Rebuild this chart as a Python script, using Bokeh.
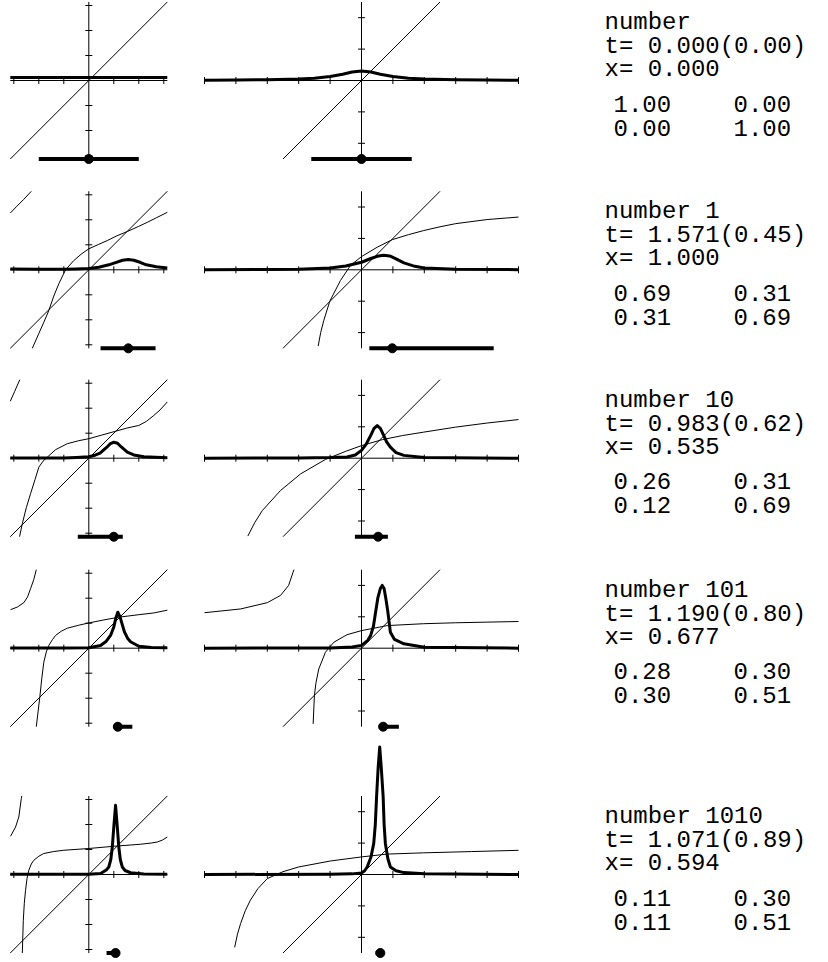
import numpy as np
from bokeh.plotting import figure
from bokeh.layouts import column, row
from bokeh.models import Range1d
from bokeh.core.properties import value
from bokeh.embed import file_html
from bokeh.resources import INLINE

# ---------------- data ----------------
L_LIM = 3.14159          # left panels: [-pi, pi] square
R_XLIM = 5.0             # right panels: x in [-5, 5]
R_YLIM = 2.5             # right panels: axis y in [-2.5, 2.5]
left_ticks = [-3, -2, -1, 1, 2, 3]
right_xticks = [-5, -4, -3, -2, -1, 1, 2, 3, 4, 5]
right_yticks = [-2, -1, 1, 2]

# ---- row 1 ----
r1_L_thick_x = [-3.14, -1.5, 0.0, 1.5, 3.14]
r1_L_thick_y = [0.12, 0.12, 0.12, 0.12, 0.12]
r1_L_bar = [-2.0, 2.0]
r1_L_dot = 0.0
r1_R_thick_x = [-5, -4, -3, -2, -1.5, -1, -0.6, -0.3, 0, 0.3, 0.6, 1, 1.5, 2, 3, 4, 5]
r1_R_thick_y = [0.01, 0.015, 0.025, 0.045, 0.07, 0.13, 0.2, 0.27, 0.3, 0.27, 0.2, 0.13, 0.07, 0.045, 0.025, 0.015, 0.01]
r1_R_bar = [-1.6, 1.6]
r1_R_dot = 0.0
r1_text = ["number", "t= 0.000(0.00)", "x= 0.000"]
r1_matrix = [["1.00", "0.00"], ["0.00", "1.00"]]

# ---- row 2 ----
r2_L_thinA_x = [-3.14, -2.9, -2.6, -2.3]
r2_L_thinA_y = [2.27, 2.52, 2.82, 3.14]
r2_L_thin_x = [-2.26, -2.0, -1.8, -1.6, -1.4, -1.2, -0.93, -0.6, -0.3, 0, 0.4, 0.74, 1.1, 1.54, 2.0, 2.34, 2.7, 3.14]
r2_L_thin_y = [-3.14, -2.55, -2.1, -1.63, -1.05, -0.56, 0.0, 0.37, 0.63, 0.84, 1.02, 1.17, 1.35, 1.53, 1.74, 1.9, 2.08, 2.3]
r2_L_thick_x = [-3.14, -2, -1, -0.5, 0, 0.4, 0.8, 1.1, 1.35, 1.58, 1.8, 2.05, 2.3, 2.7, 3.14]
r2_L_thick_y = [0.03, 0.02, 0.02, 0.03, 0.05, 0.1, 0.2, 0.3, 0.38, 0.41, 0.38, 0.3, 0.2, 0.12, 0.07]
r2_L_bar = [0.47, 2.67]
r2_L_dot = 1.58
r2_R_thin_x = [-1.38, -1.3, -1.2, -1.01, -0.67, -0.35, 0, 0.5, 0.98, 1.5, 1.98, 2.5, 3, 4, 5]
r2_R_thin_y = [-2.43, -2.0, -1.61, -1.0, -0.34, 0.14, 0.42, 0.72, 0.96, 1.12, 1.25, 1.37, 1.47, 1.6, 1.68]
r2_R_thick_x = [-5, -3, -2, -1, -0.5, 0, 0.3, 0.5, 0.7, 0.9, 1.1, 1.35, 1.7, 2, 3, 5]
r2_R_thick_y = [0.005, 0.01, 0.02, 0.06, 0.12, 0.24, 0.36, 0.43, 0.46, 0.44, 0.35, 0.22, 0.11, 0.06, 0.02, 0.005]
r2_R_bar = [0.25, 4.21]
r2_R_dot = 0.98
r2_text = ["number 1", "t= 1.571(0.45)", "x= 1.000"]
r2_matrix = [["0.69", "0.31"], ["0.31", "0.69"]]

# ---- row 3 ----
r3_L_thinA_x = [-3.14, -2.97, -2.76]
r3_L_thinA_y = [2.28, 2.66, 3.14]
r3_L_thin_x = [-2.77, -2.66, -2.5, -2.33, -2.15, -2.0, -1.83, -1.66, -1.33, -0.86, -0.4, 0, 0.5, 1.04, 1.5, 2.0, 2.3, 2.6, 2.85, 3.14]
r3_L_thin_y = [-3.14, -2.62, -1.98, -1.42, -0.85, -0.36, -0.12, 0.04, 0.34, 0.58, 0.7, 0.78, 0.92, 1.07, 1.2, 1.31, 1.47, 1.71, 1.93, 2.25]
r3_L_thick_x = [-3.14, -1, -0.5, 0, 0.25, 0.45, 0.7, 0.85, 1.0, 1.15, 1.3, 1.54, 1.8, 2.2, 3.14]
r3_L_thick_y = [0.01, 0.01, 0.03, 0.06, 0.12, 0.2, 0.42, 0.57, 0.64, 0.6, 0.45, 0.24, 0.13, 0.06, 0.02]
r3_L_bar = [-0.44, 1.36]
r3_L_dot = 1.0
r3_R_thin_x = [-3.62, -3.4, -3.16, -2.58, -1.94, -1.15, -0.5, 0, 0.66, 1.3, 1.98, 3, 4, 5]
r3_R_thin_y = [-2.48, -2.05, -1.67, -1.03, -0.5, -0.04, 0.22, 0.4, 0.59, 0.72, 0.83, 0.99, 1.12, 1.23]
r3_R_thick_x = [-5, -2, -1, -0.46, -0.2, 0, 0.15, 0.29, 0.4, 0.5, 0.6, 0.71, 0.8, 0.92, 1.1, 1.35, 2, 5]
r3_R_thick_y = [0, 0.01, 0.02, 0.04, 0.1, 0.25, 0.45, 0.72, 0.95, 1.04, 0.95, 0.72, 0.52, 0.35, 0.18, 0.09, 0.02, 0]
r3_R_bar = [-0.21, 0.84]
r3_R_dot = 0.53
r3_text = ["number 10", "t= 0.983(0.62)", "x= 0.535"]
r3_matrix = [["0.26", "0.31"], ["0.12", "0.69"]]

# ---- row 4 ----
r4_L_thinA_x = [-3.13, -2.85, -2.6, -2.45, -2.33, -2.2, -2.1]
r4_L_thinA_y = [1.54, 1.65, 1.82, 2.05, 2.38, 2.75, 3.14]
r4_L_thin_x = [-2.1, -2.03, -1.96, -1.88, -1.8, -1.7, -1.6, -1.45, -1.33, -1.1, -0.86, -0.4, 0, 0.6, 1.2, 2.0, 2.6, 3.14]
r4_L_thin_y = [-3.14, -2.55, -1.96, -1.2, -0.56, -0.15, 0.11, 0.35, 0.51, 0.68, 0.8, 0.92, 1.01, 1.13, 1.24, 1.34, 1.41, 1.52]
r4_L_thick_x = [-3.14, -1, 0, 0.47, 0.7, 0.87, 1.0, 1.08, 1.16, 1.25, 1.35, 1.43, 1.55, 1.67, 2.0, 2.5, 3.14]
r4_L_thick_y = [0.01, 0.01, 0.02, 0.11, 0.28, 0.51, 0.85, 1.2, 1.44, 1.25, 0.9, 0.64, 0.4, 0.26, 0.08, 0.03, 0.02]
r4_L_bar = [1.0, 1.74]
r4_L_dot = 1.16
r4_R_thinA_x = [-5, -3.85, -3.0, -2.58, -2.32, -2.18, -2.15]
r4_R_thinA_y = [1.13, 1.25, 1.45, 1.68, 2.0, 2.42, 2.5]
r4_R_thin_x = [-1.54, -1.5, -1.45, -1.36, -1.15, -0.88, -0.46, 0, 0.82, 1.98, 3, 4, 5]
r4_R_thin_y = [-2.41, -1.51, -1.1, -0.66, -0.13, 0.19, 0.43, 0.56, 0.72, 0.78, 0.81, 0.83, 0.85]
r4_R_thick_x = [-5, -1, -0.3, 0, 0.2, 0.29, 0.38, 0.45, 0.52, 0.6, 0.66, 0.72, 0.78, 0.84, 0.92, 1.05, 1.35, 2, 5]
r4_R_thick_y = [0, 0.01, 0.04, 0.09, 0.25, 0.4, 0.7, 1.15, 1.6, 1.9, 2.0, 1.9, 1.55, 1.15, 0.51, 0.28, 0.14, 0.03, 0]
r4_R_bar = [0.55, 1.19]
r4_R_dot = 0.69
r4_text = ["number 101", "t= 1.190(0.80)", "x= 0.677"]
r4_matrix = [["0.28", "0.30"], ["0.30", "0.51"]]

# ---- row 5 ----
r5_L_thinA_x = [-3.13, -2.93, -2.8, -2.7, -2.68]
r5_L_thinA_y = [1.53, 1.9, 2.3, 3.04, 3.14]
r5_L_thin_x = [-2.66, -2.62, -2.58, -2.53, -2.47, -2.4, -2.3, -2.2, -2.0, -1.8, -1.4, -1.0, 0, 1.0, 2.07, 2.5, 2.74, 2.95, 3.14]
r5_L_thin_y = [-3.14, -1.83, -1.15, -0.63, -0.15, 0.17, 0.42, 0.57, 0.73, 0.84, 0.92, 0.97, 1.04, 1.13, 1.21, 1.26, 1.3, 1.38, 1.5]
r5_L_thick_x = [-3.14, 0, 0.47, 0.7, 0.8, 0.88, 0.94, 1.0, 1.07, 1.14, 1.2, 1.26, 1.34, 1.45, 1.67, 2.2, 3.14]
r5_L_thick_y = [0.01, 0.01, 0.04, 0.18, 0.3, 0.6, 1.1, 1.9, 2.77, 1.9, 1.1, 0.6, 0.3, 0.16, 0.07, 0.02, 0.01]
r5_L_bar = [0.71, 1.2]
r5_L_dot = 1.07
r5_R_thin_x = [-4.04, -3.95, -3.85, -3.7, -3.54, -3.3, -3.0, -2.5, -2.0, -0.99, 0, 0.82, 1.98, 3.5, 5]
r5_R_thin_y = [-2.32, -1.9, -1.56, -1.15, -0.82, -0.45, -0.13, 0.09, 0.24, 0.43, 0.56, 0.65, 0.69, 0.73, 0.77]
r5_R_thick_x = [-5, -1, -0.3, 0, 0.1, 0.18, 0.3, 0.39, 0.44, 0.48, 0.53, 0.58, 0.63, 0.69, 0.72, 0.76, 0.84, 0.92, 1.1, 1.35, 2, 5]
r5_R_thick_y = [0, 0.01, 0.02, 0.05, 0.12, 0.24, 0.55, 0.99, 1.6, 2.47, 3.4, 4.06, 3.4, 2.47, 1.6, 0.99, 0.5, 0.24, 0.12, 0.06, 0.02, 0]
r5_R_bar = [0.45, 0.71]
r5_R_dot = 0.6
r5_text = ["number 1010", "t= 1.071(0.89)", "x= 0.594"]
r5_matrix = [["0.11", "0.30"], ["0.11", "0.51"]]

rows = [
    dict(L=[(r1_L_thick_x, r1_L_thick_y, "thick")], Lbar=r1_L_bar, Ldot=r1_L_dot,
         R=[(r1_R_thick_x, r1_R_thick_y, "thick")], Rbar=r1_R_bar, Rdot=r1_R_dot,
         text=r1_text, matrix=r1_matrix),
    dict(L=[(r2_L_thinA_x, r2_L_thinA_y, "thin"), (r2_L_thin_x, r2_L_thin_y, "thin"), (r2_L_thick_x, r2_L_thick_y, "thick")],
         Lbar=r2_L_bar, Ldot=r2_L_dot,
         R=[(r2_R_thin_x, r2_R_thin_y, "thin"), (r2_R_thick_x, r2_R_thick_y, "thick")], Rbar=r2_R_bar, Rdot=r2_R_dot,
         text=r2_text, matrix=r2_matrix),
    dict(L=[(r3_L_thinA_x, r3_L_thinA_y, "thin"), (r3_L_thin_x, r3_L_thin_y, "thin"), (r3_L_thick_x, r3_L_thick_y, "thick")],
         Lbar=r3_L_bar, Ldot=r3_L_dot,
         R=[(r3_R_thin_x, r3_R_thin_y, "thin"), (r3_R_thick_x, r3_R_thick_y, "thick")], Rbar=r3_R_bar, Rdot=r3_R_dot,
         text=r3_text, matrix=r3_matrix),
    dict(L=[(r4_L_thinA_x, r4_L_thinA_y, "thin"), (r4_L_thin_x, r4_L_thin_y, "thin"), (r4_L_thick_x, r4_L_thick_y, "thick")],
         Lbar=r4_L_bar, Ldot=r4_L_dot,
         R=[(r4_R_thinA_x, r4_R_thinA_y, "thin"), (r4_R_thin_x, r4_R_thin_y, "thin"), (r4_R_thick_x, r4_R_thick_y, "thick")],
         Rbar=r4_R_bar, Rdot=r4_R_dot, text=r4_text, matrix=r4_matrix),
    dict(L=[(r5_L_thinA_x, r5_L_thinA_y, "thin"), (r5_L_thin_x, r5_L_thin_y, "thin"), (r5_L_thick_x, r5_L_thick_y, "thick")],
         Lbar=r5_L_bar, Ldot=r5_L_dot,
         R=[(r5_R_thin_x, r5_R_thin_y, "thin"), (r5_R_thick_x, r5_R_thick_y, "thick")], Rbar=r5_R_bar, Rdot=r5_R_dot,
         text=r5_text, matrix=r5_matrix),
]

# ---------------- layout (pixels) ----------------
origins = [80.0, 269.3, 457.7, 647.7, 874.0]
bands = [(0, 175), (175, 364), (364, 553), (553, 742), (742, 958)]
L_SC, R_SC = 25.0, 31.4
L_X0, R_X0 = 88.3, 361.0
L_BAND, R_BAND, T_BAND = (0, 185), (185, 540), (540, 824)
FONT = value("Liberation Mono")
TEXT_DY = [-58, -34, -11]
MAT_DY = [23, 47]


def base_fig(xb, yb, xr, yr):
    p = figure(width=xb[1] - xb[0], height=yb[1] - yb[0],
               x_range=Range1d(*xr), y_range=Range1d(*yr),
               output_backend="svg", toolbar_location=None,
               x_axis_location=None, y_axis_location=None,
               min_border=0, title=None)
    p.outline_line_color = None
    p.background_fill_color = "white"
    p.border_fill_color = "white"
    p.xgrid.visible = False
    p.ygrid.visible = False
    return p


def draw_panel(p, curves, xlim, ylim, xticks, yticks, diag, bar, dot):
    # axes
    p.segment(x0=[-xlim, 0], y0=[0, -ylim], x1=[xlim, 0], y1=[0, ylim],
              line_color="black", line_width=1)
    p.scatter(x=xticks, y=[0] * len(xticks), marker="dash", size=7, angle=np.pi / 2,
              line_color="black", line_width=1)
    p.scatter(x=[0] * len(yticks), y=yticks, marker="dash", size=7,
              line_color="black", line_width=1)
    # diagonal y = x
    p.line(x=[-diag, diag], y=[-diag, diag], line_color="black", line_width=1)
    for xs, ys, kind in curves:
        if kind == "thin":
            p.line(x=xs, y=ys, line_color="black", line_width=1)
        else:
            p.line(x=xs, y=ys, line_color="black", line_width=3, line_join="round")
    # interval bar with dot at the bottom edge
    p.line(x=bar, y=[-ylim, -ylim], line_color="black", line_width=4)
    p.scatter(x=[dot], y=[-ylim], size=9, color="black")


row_layouts = []
for i, rd in enumerate(rows):
    T, B = bands[i]
    O = origins[i]
    # left panel
    lxr = ((L_BAND[0] - L_X0) / L_SC, (L_BAND[1] - L_X0) / L_SC)
    lyr = (-(B - O) / L_SC, (O - T) / L_SC)
    pl = base_fig(L_BAND, (T, B), lxr, lyr)
    draw_panel(pl, rd["L"], L_LIM, L_LIM, left_ticks, left_ticks, L_LIM, rd["Lbar"], rd["Ldot"])
    # right panel
    rxr = ((R_BAND[0] - R_X0) / R_SC, (R_BAND[1] - R_X0) / R_SC)
    ryr = (-(B - O) / R_SC, (O - T) / R_SC)
    pr = base_fig(R_BAND, (T, B), rxr, ryr)
    draw_panel(pr, rd["R"], R_XLIM, R_YLIM, right_xticks, right_yticks, R_YLIM, rd["Rbar"], rd["Rdot"])
    # text panel (pixel coordinates, y downward)
    pt = base_fig(T_BAND, (T, B), T_BAND, (B, T))
    tx = [604, 604, 604]
    ty = [O + d for d in TEXT_DY]
    pt.text(x=tx, y=ty, text=rd["text"], text_font=FONT, text_font_size="24px",
            text_baseline="middle", text_align="left", text_color="black")
    mx, my, mt = [], [], []
    for j, mrow in enumerate(rd["matrix"]):
        for k, cell in enumerate(mrow):
            mx.append(613 + 120 * k)
            my.append(O + MAT_DY[j])
            mt.append(cell)
    pt.text(x=mx, y=my, text=mt, text_font=FONT, text_font_size="24px",
            text_baseline="middle", text_align="left", text_color="black")
    row_layouts.append(row(pl, pr, pt))

layout = column(*row_layouts)
open("out.html", "w").write(file_html(layout, INLINE))
